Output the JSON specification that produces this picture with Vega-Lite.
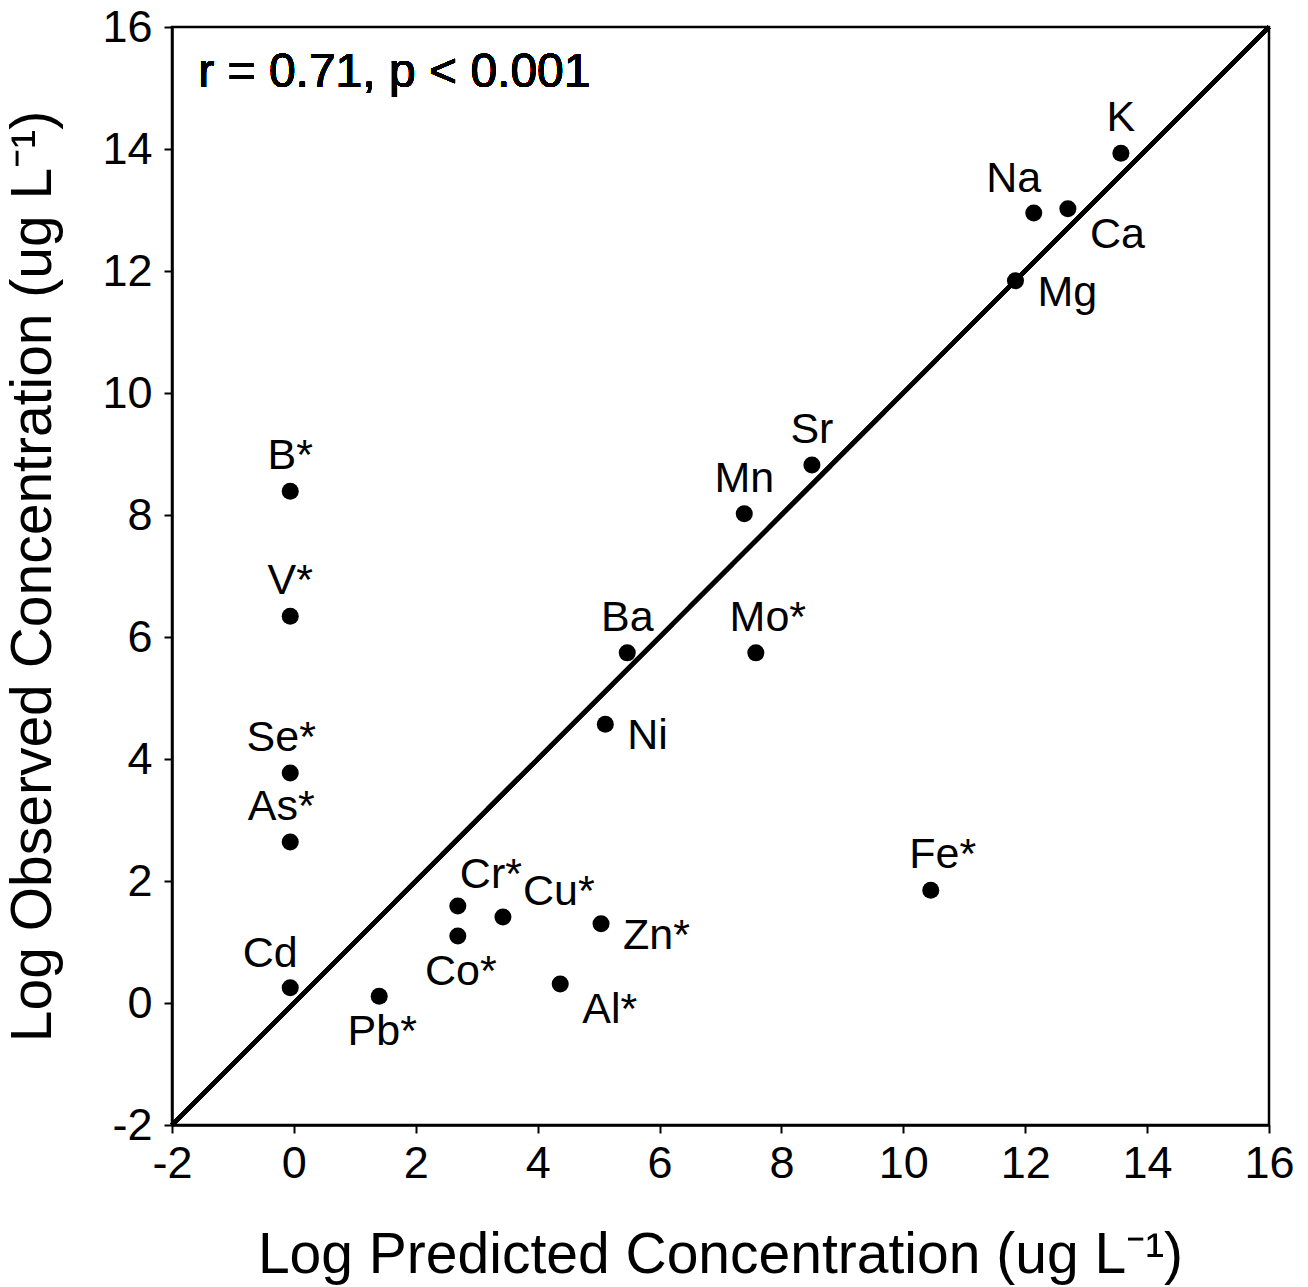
{
  "$schema": "https://vega.github.io/schema/vega-lite/v6.json",
  "autosize": {"type": "none"},
  "width": 1097,
  "height": 1098,
  "padding": {"left": 172, "top": 27, "right": 39, "bottom": 162},
  "background": "white",
  "config": {
    "font": "Liberation Sans",
    "view": {"stroke": "black", "strokeWidth": 2.5},
    "axis": {
      "grid": false,
      "domain": true,
      "domainColor": "black",
      "domainWidth": 2.5,
      "ticks": true,
      "tickColor": "black",
      "tickWidth": 2,
      "tickSize": 8,
      "labelFlush": false,
      "labelFont": "Liberation Sans",
      "labelFontSize": 45,
      "labelColor": "black",
      "labelExpr": "'' + datum.value",
      "titleFont": "Liberation Sans",
      "titleFontSize": 57,
      "titleFontWeight": "normal",
      "titleColor": "black"
    }
  },
  "data": {
    "values": [
      {"element": "K", "label": "K", "pred": 13.57, "obs": 13.93, "pos": "above"},
      {"element": "Na", "label": "Na", "pred": 12.14, "obs": 12.95, "pos": "aboveLeft"},
      {"element": "Ca", "label": "Ca", "pred": 12.70, "obs": 13.02, "pos": "belowRight"},
      {"element": "Mg", "label": "Mg", "pred": 11.84, "obs": 11.84, "pos": "right"},
      {"element": "Sr", "label": "Sr", "pred": 8.50, "obs": 8.82, "pos": "above"},
      {"element": "Mn", "label": "Mn", "pred": 7.39, "obs": 8.02, "pos": "above"},
      {"element": "Ba", "label": "Ba", "pred": 5.47, "obs": 5.74, "pos": "above"},
      {"element": "Mo", "label": "Mo*", "pred": 7.58, "obs": 5.74, "pos": "aboveStar"},
      {"element": "Ni", "label": "Ni", "pred": 5.11, "obs": 4.57, "pos": "right"},
      {"element": "B", "label": "B*", "pred": -0.06, "obs": 8.39, "pos": "above"},
      {"element": "V", "label": "V*", "pred": -0.06, "obs": 6.34, "pos": "above"},
      {"element": "Se", "label": "Se*", "pred": -0.06, "obs": 3.77, "pos": "aboveLeftStar"},
      {"element": "As", "label": "As*", "pred": -0.06, "obs": 2.64, "pos": "aboveLeftStar"},
      {"element": "Cd", "label": "Cd", "pred": -0.06, "obs": 0.25, "pos": "aboveLeft"},
      {"element": "Pb", "label": "Pb*", "pred": 1.40, "obs": 0.11, "pos": "below"},
      {"element": "Cr", "label": "Cr*", "pred": 2.69, "obs": 1.59, "pos": "aboveRight"},
      {"element": "Co", "label": "Co*", "pred": 2.69, "obs": 1.10, "pos": "below"},
      {"element": "Cu", "label": "Cu*", "pred": 3.43, "obs": 1.41, "pos": "upRight"},
      {"element": "Zn", "label": "Zn*", "pred": 5.04, "obs": 1.30, "pos": "right"},
      {"element": "Al", "label": "Al*", "pred": 4.37, "obs": 0.31, "pos": "belowRight"},
      {"element": "Fe", "label": "Fe*", "pred": 10.45, "obs": 1.85, "pos": "aboveStar"}
    ]
  },
  "encoding": {
    "x": {
      "field": "pred", "type": "quantitative",
      "scale": {"domain": [-2, 16], "nice": false, "zero": false},
      "axis": {
        "values": [-2, 0, 2, 4, 6, 8, 10, 12, 14, 16],
        "labelPadding": 8,
        "title": "Log Predicted Concentration (ug L\u207b\u00b9)",
        "titleX": 548, "titleY": 147, "titleBaseline": "alphabetic", "titleAnchor": "middle", "titleAlign": "center"
      }
    },
    "y": {
      "field": "obs", "type": "quantitative",
      "scale": {"domain": [-2, 16], "nice": false, "zero": false},
      "axis": {
        "values": [-2, 0, 2, 4, 6, 8, 10, 12, 14, 16],
        "labelPadding": 12,
        "title": "Log Observed Concentration (ug L\u207b\u00b9)",
        "titleX": -122, "titleY": 549, "titleAngle": -90, "titleBaseline": "alphabetic", "titleAlign": "center"
      }
    }
  },
  "layer": [
    {
      "mark": {"type": "rule", "color": "black", "strokeWidth": 4},
      "encoding": {
        "x": {"datum": -2, "type": "quantitative"},
        "y": {"datum": -2, "type": "quantitative"},
        "x2": {"datum": 16},
        "y2": {"datum": 16}
      }
    },
    {
      "mark": {"type": "circle", "color": "black", "opacity": 1, "size": 290}
    },
    {
      "transform": [{"filter": "datum.pos === 'above'"}],
      "mark": {"type": "text", "fontSize": 43, "align": "center", "baseline": "middle", "dy": -35, "color": "black"},
      "encoding": {"text": {"field": "label"}}
    },
    {
      "transform": [{"filter": "datum.pos === 'aboveStar'"}],
      "mark": {"type": "text", "fontSize": 43, "align": "center", "baseline": "middle", "dx": 12, "dy": -35, "color": "black"},
      "encoding": {"text": {"field": "label"}}
    },
    {
      "transform": [{"filter": "datum.pos === 'aboveLeft'"}],
      "mark": {"type": "text", "fontSize": 43, "align": "center", "baseline": "middle", "dx": -20, "dy": -34, "color": "black"},
      "encoding": {"text": {"field": "label"}}
    },
    {
      "transform": [{"filter": "datum.pos === 'aboveLeftStar'"}],
      "mark": {"type": "text", "fontSize": 43, "align": "center", "baseline": "middle", "dx": -9, "dy": -35, "color": "black"},
      "encoding": {"text": {"field": "label"}}
    },
    {
      "transform": [{"filter": "datum.pos === 'below'"}],
      "mark": {"type": "text", "fontSize": 43, "align": "center", "baseline": "middle", "dx": 3, "dy": 36, "color": "black"},
      "encoding": {"text": {"field": "label"}}
    },
    {
      "transform": [{"filter": "datum.pos === 'belowRight'"}],
      "mark": {"type": "text", "fontSize": 43, "align": "left", "baseline": "middle", "dx": 22, "dy": 26, "color": "black"},
      "encoding": {"text": {"field": "label"}}
    },
    {
      "transform": [{"filter": "datum.pos === 'right'"}],
      "mark": {"type": "text", "fontSize": 43, "align": "left", "baseline": "middle", "dx": 22, "dy": 12, "color": "black"},
      "encoding": {"text": {"field": "label"}}
    },
    {
      "transform": [{"filter": "datum.pos === 'aboveRight'"}],
      "mark": {"type": "text", "fontSize": 43, "align": "left", "baseline": "middle", "dx": 2, "dy": -31, "color": "black"},
      "encoding": {"text": {"field": "label"}}
    },
    {
      "transform": [{"filter": "datum.pos === 'upRight'"}],
      "mark": {"type": "text", "fontSize": 43, "align": "left", "baseline": "middle", "dx": 20, "dy": -25, "color": "black"},
      "encoding": {"text": {"field": "label"}}
    },
    {
      "mark": {"type": "text", "fontSize": 48, "align": "left", "baseline": "alphabetic", "color": "black"},
      "encoding": {
        "x": {"datum": -1.57, "type": "quantitative"},
        "y": {"datum": 15.02, "type": "quantitative"},
        "text": {"value": "r = 0.71, p < 0.001"}
      }
    }
  ]
}
